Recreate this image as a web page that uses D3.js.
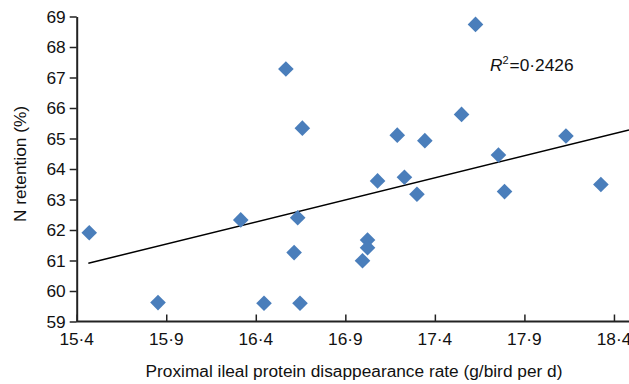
<!DOCTYPE html>
<html>
<head>
<meta charset="utf-8">
<script src="https://cdn.jsdelivr.net/npm/d3@7"></script>
<style>
  body { margin: 0; background: #fff; }
  svg { display: block; font-family: "Liberation Sans", Arial, sans-serif; }
</style>
</head>
<body>
<svg id="chart" width="629" height="384"></svg>
<script>
// proximal ileal protein disappearance rate (g/bird per d)
var rate = [15.47, 15.854, 16.316, 16.634, 16.614, 16.446, 16.647, 16.568, 16.66,
            17.19, 17.344, 17.08, 17.23, 17.30, 17.024, 17.024, 16.996,
            17.627, 17.549, 17.755, 17.789, 18.132, 18.327]
// N retention (%)
var retention = [61.91, 59.62, 62.33, 62.40, 61.26, 59.60, 59.60, 67.28, 65.34,
                 65.11, 64.93, 63.61, 63.73, 63.17, 61.67, 61.42, 60.99,
                 68.74, 65.79, 64.46, 63.26, 65.08, 63.49]
// fitted trend line
var trendX = [15.465, 18.484]
var trendY = [60.91, 65.28]
var xTicks = [15.4, 15.9, 16.4, 16.9, 17.4, 17.9, 18.4]
var yTicks = [59, 60, 61, 62, 63, 64, 65, 66, 67, 68, 69]
var r2Label = "0·2426"

var svg = d3.select("#chart")
var blue = "#4a7ebb"
var ink = "#222"
var fs = 17.3

var x = d3.scaleLinear().domain([15.4, 18.484]).range([76.7, 629])
var y = d3.scaleLinear().domain([59, 69]).range([321.5, 16.5])

var fmt = function(d) { return d3.format(".1f")(d).replace(".", "·") }

// x axis (ticks point up into the plot)
var gx = svg.append("g")
    .attr("transform", "translate(0," + y(59) + ")")
    .call(d3.axisTop(x).tickValues(xTicks).tickSize(7).tickFormat(""))
gx.select(".domain").attr("stroke", ink).attr("stroke-width", 2)
    .attr("d", "M" + x.range()[0] + ",0H" + x.range()[1])
gx.selectAll(".tick line").attr("stroke", ink).attr("stroke-width", 1.5)

svg.append("g").selectAll("text")
    .data(xTicks)
    .enter()
    .append("text")
    .attr("x", d => x(d))
    .attr("y", 345)
    .attr("text-anchor", "middle")
    .attr("font-size", fs)
    .attr("fill", "#111")
    .text(fmt)

// y axis
var gy = svg.append("g")
    .attr("transform", "translate(" + x(15.4) + ",0)")
    .call(d3.axisLeft(y).tickValues(yTicks).tickSize(7).tickPadding(4).tickSizeOuter(0))
gy.select(".domain").attr("stroke", ink).attr("stroke-width", 2)
gy.selectAll(".tick line").attr("stroke", ink).attr("stroke-width", 1.5)
gy.selectAll(".tick text").attr("font-size", fs).attr("fill", "#111")
    .attr("font-family", "Liberation Sans, Arial, sans-serif")

// axis titles
svg.append("text")
    .attr("x", 354)
    .attr("y", 377)
    .attr("text-anchor", "middle")
    .attr("font-size", fs)
    .attr("fill", "#111")
    .text("Proximal ileal protein disappearance rate (g/bird per d)")

svg.append("text")
    .attr("transform", "translate(26,164) rotate(-90)")
    .attr("text-anchor", "middle")
    .attr("font-size", fs)
    .attr("fill", "#111")
    .text("N retention (%)")

// linear trend line
svg.append("line")
    .attr("x1", x(trendX[0])).attr("y1", y(trendY[0]))
    .attr("x2", x(trendX[1])).attr("y2", y(trendY[1]))
    .attr("stroke", "#000")
    .attr("stroke-width", 1.5)

// points, squares turned 45deg
var diamond = d3.symbol().type(d3.symbolSquare).size(122)
svg.append("g")
    .attr("fill", blue)
    .selectAll("path")
    .data(rate)
    .enter()
    .append("path")
    .attr("d", diamond)
    .attr("transform", (d, i) => "translate(" + x(d) + "," + y(retention[i]) + ") rotate(45)")

// R squared label
var lab = svg.append("text")
    .attr("x", 490)
    .attr("y", 71)
    .attr("font-size", fs)
    .attr("fill", "#111")
lab.append("tspan").attr("font-style", "italic").text("R")
lab.append("tspan").attr("font-size", 11).attr("dy", -7).text("2")
lab.append("tspan").attr("dy", 7).attr("dx", 1).text("=" + r2Label)
</script>
</body>
</html>
